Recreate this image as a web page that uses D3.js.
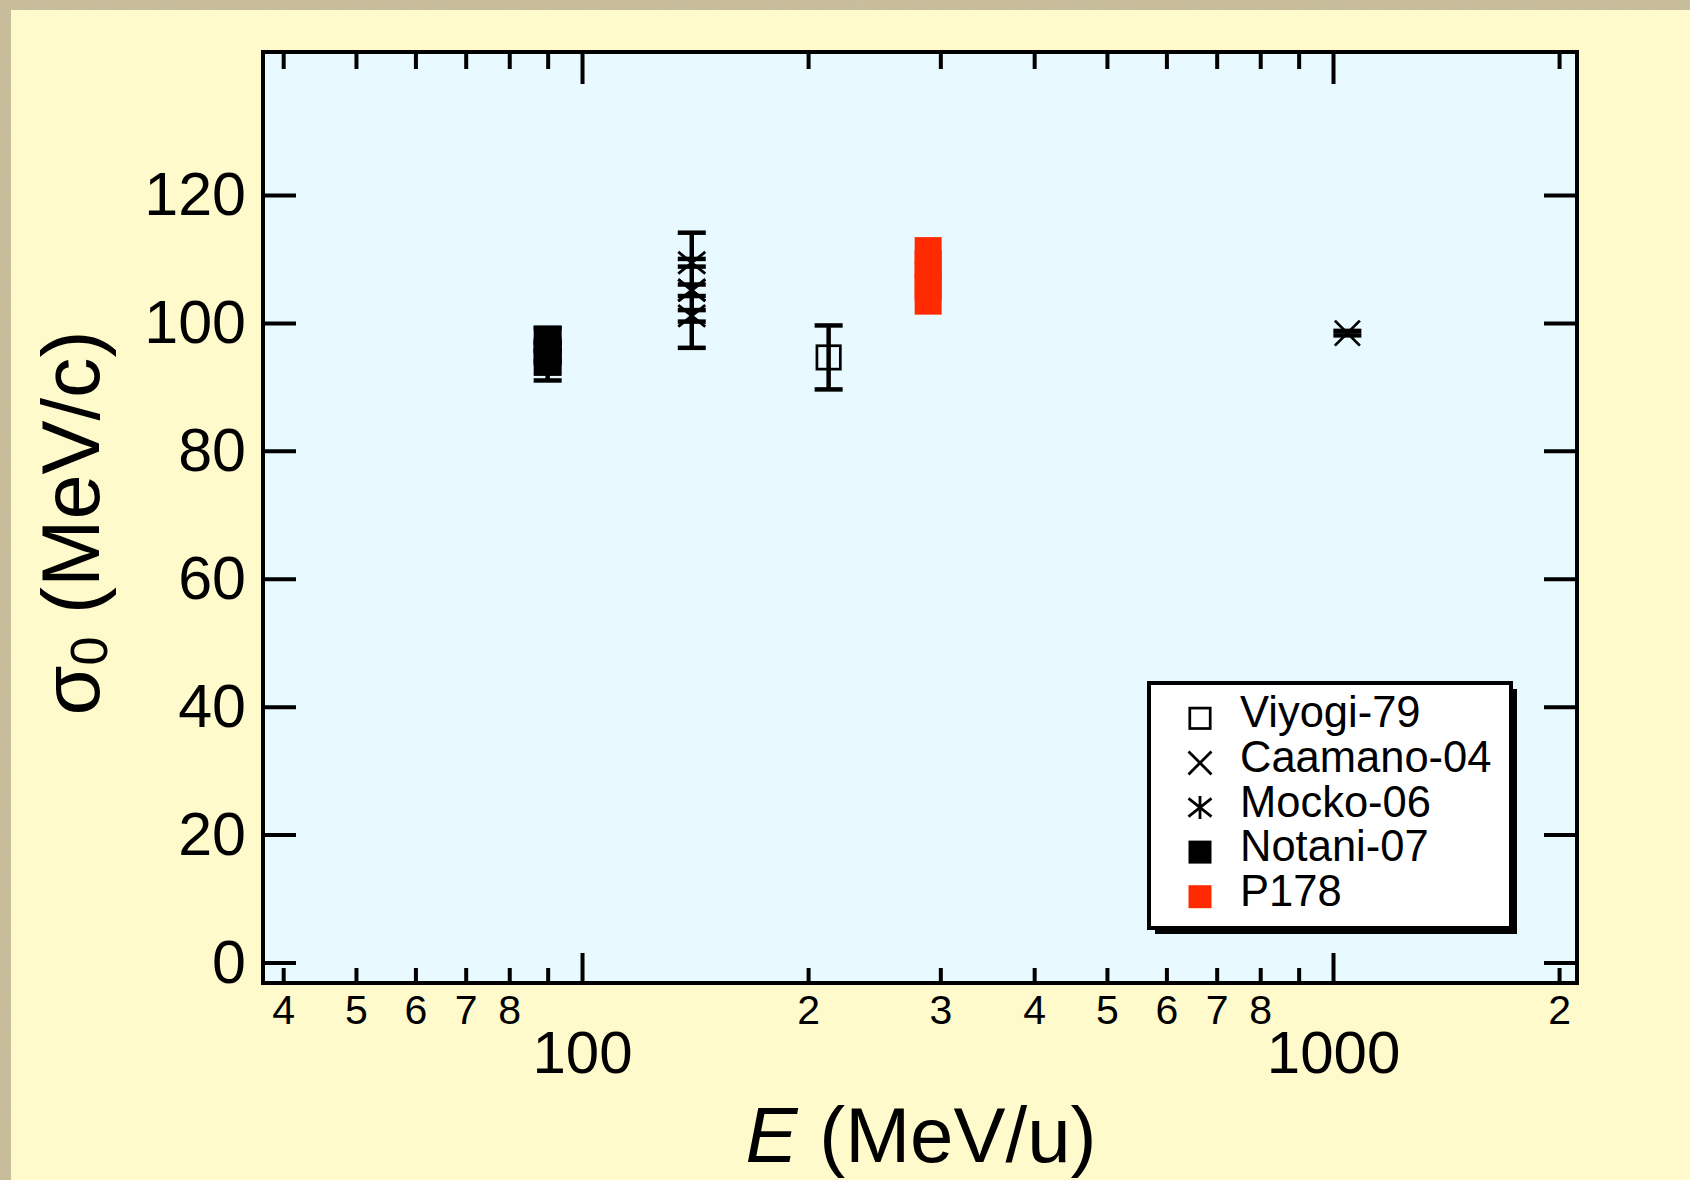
<!DOCTYPE html>
<html><head><meta charset="utf-8">
<script src="https://cdn.jsdelivr.net/npm/d3@7"></script>
<style>html,body{margin:0;padding:0;background:#c8bc98;} svg{display:block}</style>
</head><body>
<script>
// ---------- data ----------
const seriesNames = ["Viyogi-79", "Caamano-04", "Mocko-06", "Notani-07", "P178"];

const viyogiE = [213];
const viyogiS = [94.6];
const viyogiErr = [5.0];

const caamanoE = [1045];
const caamanoS = [98.4];
const caamanoErr = [0.35];

const mockoE = [140, 140, 140, 140];
const mockoS = [109.4, 105.1, 105.1, 101.1];
const mockoErr = [0.6, 0.9, 9.0, 0.9];

const notaniE = [90, 90, 90];
const notaniS = [97.4, 95.5, 93.9];
const notaniErr = [1.8, 1.5, 2.9];

const p178E = [289, 289, 289, 289, 289];
const p178S = [111.3, 109.2, 107.4, 105.6, 103.4];

const yTicks = [0, 20, 40, 60, 80, 100, 120];
const xMajorTicks = [100, 1000];
const xMinorTicks = [40, 50, 60, 70, 80, 90, 200, 300, 400, 500, 600, 700, 800, 900, 2000];
const xMinorLabels = ["4", "5", "6", "7", "8", "", "2", "3", "4", "5", "6", "7", "8", "", "2"];
const xMajorLabels = ["100", "1000"];

// ---------- layout / style ----------
const W = 1690, H = 1180;
const L = 263, R = 1577, T = 52, B = 983;
const FONT = "'Liberation Sans', Arial, Helvetica, sans-serif";

const markerStyle = {
  "Viyogi-79":  {type: "openSquare", color: "#000", size: 26},
  "Caamano-04": {type: "cross", color: "#000", size: 25},
  "Mocko-06":   {type: "asterisk", color: "#000", size: 27},
  "Notani-07":  {type: "filledSquare", color: "#000", size: 28},
  "P178":       {type: "filledSquare", color: "#ff2a00", size: 27}
};

const series = [
  {name: "Viyogi-79", E: viyogiE, S: viyogiS, err: viyogiErr},
  {name: "Caamano-04", E: caamanoE, S: caamanoS, err: caamanoErr},
  {name: "Mocko-06", E: mockoE, S: mockoS, err: mockoErr},
  {name: "Notani-07", E: notaniE, S: notaniS, err: notaniErr},
  {name: "P178", E: p178E, S: p178S, err: null}
];

const svg = d3.select("body").append("svg").attr("width", W).attr("height", H);

// background texture + pale panel
const defs = svg.append("defs");
const f = defs.append("filter").attr("id", "tex").attr("x", 0).attr("y", 0).attr("width", 1).attr("height", 1);
f.append("feTurbulence").attr("type", "fractalNoise").attr("baseFrequency", 0.09).attr("numOctaves", 3).attr("seed", 4);
f.append("feColorMatrix").attr("type", "matrix")
  .attr("values", "0 0 0 0 0.58  0 0 0 0 0.53  0 0 0 0 0.40  0.7 0 0 0 -0.1");
svg.append("rect").attr("width", W).attr("height", H).attr("fill", "#c8bc98");
svg.append("rect").attr("width", W).attr("height", H).attr("filter", "url(#tex)").attr("opacity", 0.6);
svg.append("rect").attr("x", 11).attr("y", 10).attr("width", W - 11).attr("height", H - 10).attr("fill", "#fffacb");

// plot background
svg.append("rect").attr("x", L).attr("y", T).attr("width", R - L).attr("height", B - T).attr("fill", "#e8faff");

// scales
const x = d3.scaleLog().domain([37.6, 2113]).range([L, R]);
const y = d3.scaleLinear().domain([-3.2, 142.35]).range([B, T]);

function styleAxis(g, fs) {
  g.select(".domain").remove();
  g.selectAll(".tick line").attr("stroke", "#000").attr("stroke-width", 4);
  g.selectAll(".tick text").attr("fill", "#000").attr("font-family", FONT).attr("font-size", fs);
  g.attr("font-family", FONT).attr("font-size", fs);
}

// bottom minor
svg.append("g").attr("transform", `translate(0,${B})`)
  .call(d3.axisBottom(x).tickValues(xMinorTicks).tickSize(-15).tickPadding(12)
    .tickFormat((d, i) => xMinorLabels[i]))
  .call(g => styleAxis(g, 41));
// bottom major
svg.append("g").attr("transform", `translate(0,${B})`)
  .call(d3.axisBottom(x).tickValues(xMajorTicks).tickSize(-30).tickPadding(47)
    .tickFormat((d, i) => xMajorLabels[i]))
  .call(g => styleAxis(g, 60));
// top minor/major
svg.append("g").attr("transform", `translate(0,${T})`)
  .call(d3.axisTop(x).tickValues(xMinorTicks).tickSize(-17).tickFormat(""))
  .call(g => styleAxis(g, 10));
svg.append("g").attr("transform", `translate(0,${T})`)
  .call(d3.axisTop(x).tickValues(xMajorTicks).tickSize(-32).tickFormat(""))
  .call(g => styleAxis(g, 10));
// left
svg.append("g").attr("transform", `translate(${L},0)`)
  .call(d3.axisLeft(y).tickValues(yTicks).tickSize(-33).tickPadding(17).tickFormat(d3.format("d")))
  .call(g => styleAxis(g, 61));
// right
svg.append("g").attr("transform", `translate(${R},0)`)
  .call(d3.axisRight(y).tickValues(yTicks).tickSize(-33).tickFormat(""))
  .call(g => styleAxis(g, 10));

// frame
svg.append("rect").attr("x", L).attr("y", T).attr("width", R - L).attr("height", B - T)
  .attr("fill", "none").attr("stroke", "#000").attr("stroke-width", 4);

// markers
function drawMarker(g, st, cx, cy) {
  const s = st.size, h = s / 2;
  if (st.type === "openSquare") {
    g.append("rect").attr("x", cx - h + 1.3).attr("y", cy - h + 1.3).attr("width", s - 2.6).attr("height", s - 2.6)
      .attr("fill", "none").attr("stroke", st.color).attr("stroke-width", 2.7);
  } else if (st.type === "filledSquare") {
    g.append("rect").attr("x", cx - h).attr("y", cy - h).attr("width", s).attr("height", s).attr("fill", st.color);
  } else if (st.type === "cross") {
    g.append("path").attr("d", `M${cx - h},${cy - h}L${cx + h},${cy + h}M${cx - h},${cy + h}L${cx + h},${cy - h}`)
      .attr("stroke", st.color).attr("stroke-width", 2.8).attr("fill", "none");
  } else if (st.type === "asterisk") {
    const k = 0.8;
    g.append("path").attr("d", `M${cx},${cy - h}L${cx},${cy + h}M${cx - h},${cy - h * k}L${cx + h},${cy + h * k}M${cx - h},${cy + h * k}L${cx + h},${cy - h * k}`)
      .attr("stroke", st.color).attr("stroke-width", 2.8).attr("fill", "none");
  }
}

const plot = svg.append("g");
// error bars
series.forEach(sr => {
  if (!sr.err) return;
  sr.E.forEach((e, i) => {
    const cx = x(e), y1 = y(sr.S[i] + sr.err[i]), y2 = y(sr.S[i] - sr.err[i]);
    plot.append("line").attr("x1", cx).attr("x2", cx).attr("y1", y1).attr("y2", y2)
      .attr("stroke", "#000").attr("stroke-width", 4.5);
    [y1, y2].forEach(yy => plot.append("line").attr("x1", cx - 14).attr("x2", cx + 14).attr("y1", yy).attr("y2", yy)
      .attr("stroke", "#000").attr("stroke-width", 4.5));
  });
});
// points
series.forEach(sr => {
  const st = markerStyle[sr.name];
  sr.E.forEach((e, i) => drawMarker(plot, st, x(e), y(sr.S[i])));
});

// legend
const lg = svg.append("g");
const lx = 1149, ly = 683, lw = 362, lh = 245;
lg.append("rect").attr("x", lx + 6).attr("y", ly + 6).attr("width", lw).attr("height", lh).attr("fill", "#000");
lg.append("rect").attr("x", lx).attr("y", ly).attr("width", lw).attr("height", lh)
  .attr("fill", "#fff").attr("stroke", "#000").attr("stroke-width", 4);
seriesNames.forEach((n, i) => {
  const cy = 718.3 + i * 44.6;
  const st = Object.assign({}, markerStyle[n], {size: 23});
  drawMarker(lg, st, 1200, cy);
  lg.append("text").attr("x", 1240).attr("y", cy + 9).attr("font-family", FONT).attr("font-size", 43.5)
    .attr("fill", "#000").text(n);
});

// axis titles
const xt = svg.append("text").attr("x", 921).attr("y", 1162).attr("text-anchor", "middle")
  .attr("font-family", FONT).attr("font-size", 78).attr("fill", "#000");
xt.append("tspan").attr("font-style", "italic").text("E");
xt.append("tspan").text(" (MeV/u)");

const yt = svg.append("text").attr("transform", "translate(99,523) rotate(-90)").attr("text-anchor", "middle")
  .attr("font-family", FONT).attr("font-size", 81).attr("fill", "#000");
yt.append("tspan").text("σ");
yt.append("tspan").attr("font-size", 52).attr("dy", 8).text("0");
yt.append("tspan").attr("dy", -8).text(" (MeV/c)");
</script>
</body></html>
